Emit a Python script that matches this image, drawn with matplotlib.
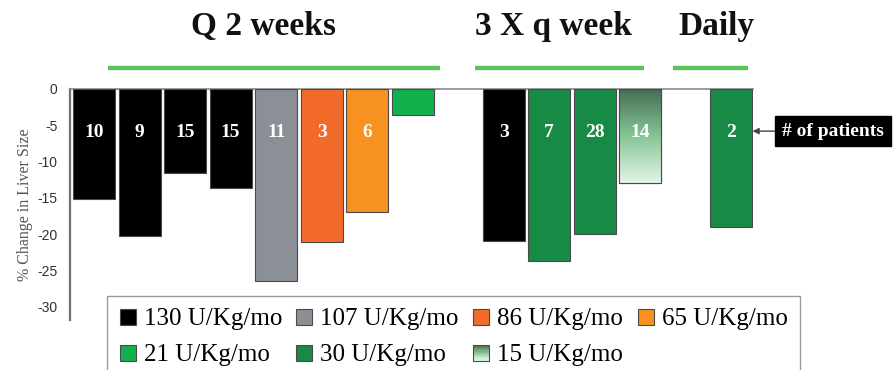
import numpy as np
import matplotlib
matplotlib.use("Agg")
import matplotlib.pyplot as plt
import matplotlib.patches as mpatches
from matplotlib.colors import LinearSegmentedColormap
from matplotlib.legend_handler import HandlerBase
from matplotlib.transforms import blended_transform_factory


# data
groups = ["Q 2 weeks"] * 8 + ["3 X q week"] * 4 + ["Daily"]
doses = ["130", "130", "130", "130", "107", "86", "65", "21",
         "130", "30", "30", "15",
         "30"]
changes = [-15.1, -20.3, -11.5, -13.6, -26.4, -21.0, -16.9, -3.6,
           -20.9, -23.7, -20.0, -12.9,
           -19.0]
patients = [10, 9, 15, 15, 11, 3, 6, None,
            3, 7, 28, 14,
            2]

group_names = ["Q 2 weeks", "3 X q week", "Daily"]
legend_doses = ["130", "107", "86", "65", "21", "30", "15"]
y_ticks = [0, -5, -10, -15, -20, -25, -30]

SERIF = "Liberation Serif"
SANS = "Liberation Sans"

dose_colors = {
    "130": "#000000",
    "107": "#8b9097",
    "86": "#f26b2b",
    "65": "#f7911f",
    "21": "#10b14c",
    "30": "#178a45",
}
gradient_cmap = LinearSegmentedColormap.from_list(
    "fade", ["#436f52", "#86c595", "#e4f5e7"])
EDGE = "#4a4a4a"


# one empty slot between dose schedules
positions = []
slot = 0
for i, g in enumerate(groups):
    if i > 0 and g != groups[i - 1]:
        slot += 1
    positions.append(slot)
    slot += 1

fig = plt.figure(figsize=(8.96, 3.70), dpi=100)
ax = fig.add_axes([70 / 896, 50 / 370, 683 / 896, 231 / 370])

bar_colors = [dose_colors.get(d, "white") for d in doses]
bars = ax.bar(positions, changes, width=0.92, color=bar_colors,
              edgecolor=EDGE, linewidth=0.8, zorder=3)

# gradient fill for the 15 U/Kg/mo bar
for rect, d in zip(bars, doses):
    if d == "15":
        x0, w = rect.get_x(), rect.get_width()
        h = rect.get_height()
        grad = np.linspace(0, 1, 256).reshape(-1, 1)
        im = ax.imshow(grad, cmap=gradient_cmap, aspect="auto",
                       extent=(x0, x0 + w, h, 0), zorder=3.5)
        im.set_clip_path(rect)
        outline = mpatches.Rectangle((x0, 0), w, h, fill=False,
                                     edgecolor=EDGE, linewidth=0.8, zorder=4)
        ax.add_patch(outline)

for x, n in zip(positions, patients):
    if n is not None:
        ax.text(x, -6, str(n), ha="center", va="center", color="white",
                fontsize=14, fontweight="bold", family=SERIF, zorder=5)

ax.set_xlim(-0.53, 14.48)
ax.set_ylim(-31.8, 0)
ax.set_yticks(y_ticks)
ax.set_yticklabels([str(t) for t in y_ticks], family=SANS, fontsize=10,
                   color="#333333")
ax.set_xticks([])
ax.tick_params(axis="y", length=0, pad=9)
for side in ["right", "bottom"]:
    ax.spines[side].set_visible(False)
ax.spines["left"].set_color("#707070")
ax.spines["left"].set_linewidth(1.6)
ax.spines["top"].set_color("#8a8a8a")
ax.spines["top"].set_linewidth(1.2)
ax.set_ylabel("% Change in Liver Size", family=SERIF, fontsize=11.5,
              color="#555555", labelpad=3)

# schedule headings with green underlines
trans = blended_transform_factory(ax.transData, ax.transAxes)
heading_x = [3.73, 10.09, 13.68]
underline_spans = [(0.31, 7.6), (8.37, 12.09), (12.73, 14.37)]
for name, hx, (a, b) in zip(group_names, heading_x, underline_spans):
    ax.text(hx, 1.234, name, transform=trans, ha="center", va="baseline",
            fontsize=24, fontweight="bold", family=SERIF, color="#111111")
    ax.plot([a, b], [1.091, 1.091], transform=trans, color="#5cc35c",
            linewidth=3.2, solid_capstyle="butt", clip_on=False)

ax.annotate("# of patients", xy=(14.47, -5.8), xytext=(16.24, -5.8),
            ha="center", va="center", color="white", fontsize=14,
            fontweight="bold", family=SERIF, annotation_clip=False,
            bbox=dict(boxstyle="square,pad=0.35", facecolor="black",
                      edgecolor="black"),
            arrowprops=dict(arrowstyle="-|>", color="#444444", lw=1.0,
                            mutation_scale=9, shrinkA=0, shrinkB=0))


class GradientHandler(HandlerBase):
    def create_artists(self, legend, orig_handle, xdescent, ydescent,
                       width, height, fontsize, trans):
        n = 14
        artists = []
        for i in range(n):
            y = -ydescent + height * (1 - (i + 1) / n)
            artists.append(mpatches.Rectangle(
                (-xdescent, y), width, height / n, facecolor=gradient_cmap(i / (n - 1)),
                edgecolor="none", transform=trans))
        artists.append(mpatches.Rectangle(
            (-xdescent, -ydescent), width, height, fill=False,
            edgecolor=EDGE, linewidth=0.8, transform=trans))
        return artists


handles = {}
for d in legend_doses:
    if d in dose_colors:
        handles[d] = mpatches.Patch(facecolor=dose_colors[d], edgecolor=EDGE,
                                    linewidth=0.8)
    else:
        handles[d] = mpatches.Patch(facecolor="white", edgecolor=EDGE)

# column-major fill, so interleave the two rows
order = ["130", "21", "107", "30", "86", "15", "65"]
leg = fig.legend([handles[d] for d in order],
                 [f"{d} U/Kg/mo" for d in order],
                 handler_map={handles["15"]: GradientHandler()},
                 loc="upper left", ncol=4, mode="expand",
                 bbox_to_anchor=(107 / 896, 0, 693 / 896, 1 - 296 / 370),
                 borderaxespad=0, borderpad=0.5, handlelength=0.64,
                 handleheight=0.62, handletextpad=0.32, labelspacing=0.56,
                 columnspacing=0.5, fancybox=False, framealpha=1,
                 edgecolor="#9a9a9a", prop={"family": SERIF, "size": 18})
leg.get_frame().set_linewidth(1.0)
leg.set_zorder(10)

fig.savefig("out.png", dpi=100)
